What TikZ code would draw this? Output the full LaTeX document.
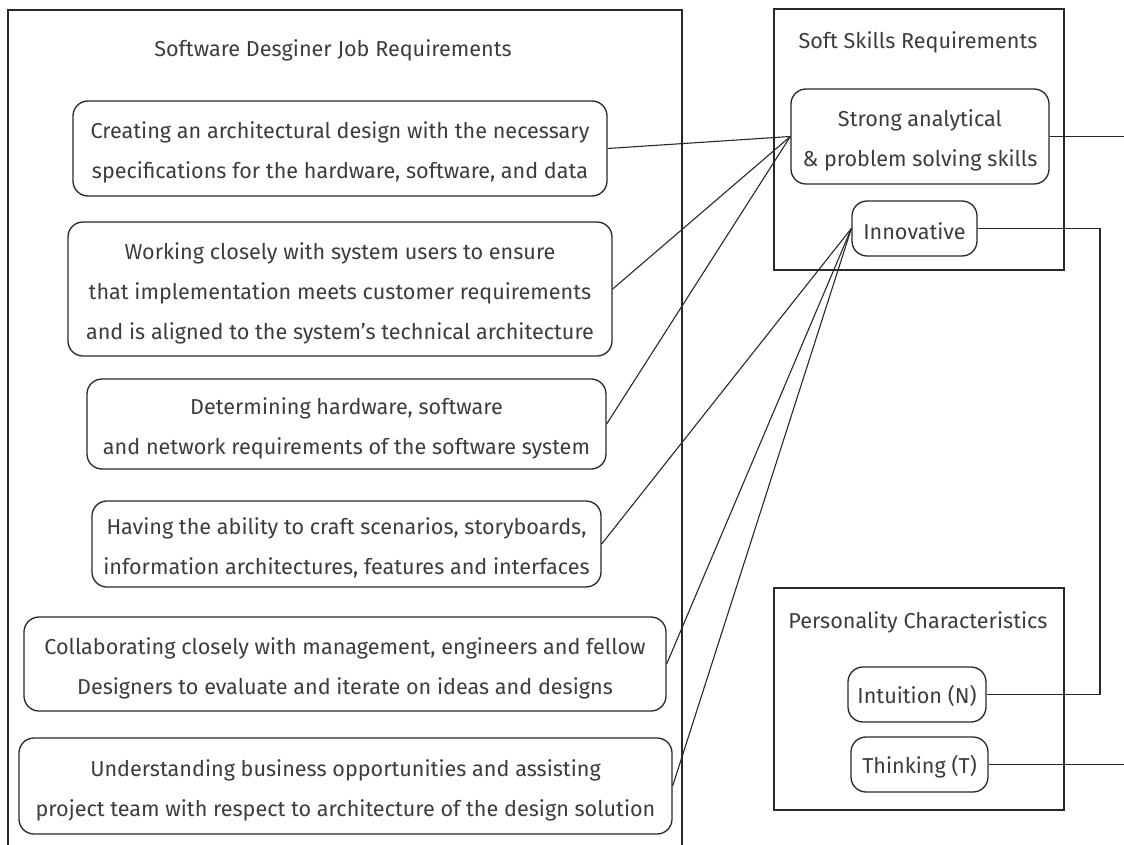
\documentclass[tikz,border=0pt]{standalone}
\usepackage{fontspec}
\newfontfamily\labelfont{Fira Sans}
\definecolor{ink}{RGB}{40,40,40}
\definecolor{txt}{RGB}{60,60,60}
% taller first line pushes the text block slightly down inside its box
\newcommand\firstline{\rule{0pt}{25pt}}
\begin{document}
\begin{tikzpicture}[x=1pt,y=-1pt,
  every node/.style={font=\labelfont\fontsize{21.6}{40}\selectfont, text=txt},
  frame/.style={draw=ink, line width=1.3pt},
  item/.style={draw=ink, line width=1.3pt, rounded corners=15pt, align=center, inner sep=0pt},
  pill/.style={item, execute at begin node={\rule{0pt}{22pt}}},
  link/.style={draw=ink, line width=1.1pt},
  heading/.style={font=\labelfont\fontsize{21.6}{24}\selectfont}]
\useasboundingbox (0,0) rectangle (1124,845);
\clip (0,0) rectangle (1124,845);

% group frames
\draw[frame] (8,10) rectangle (682,860);
\draw[frame] (774,9) rectangle (1064,270);
\draw[frame] (774,588) rectangle (1064,810);

\node[heading] (jobtitle) at (333,50) {Software Desginer Job Requirements};
\node[heading] (softtitle) at (918,42) {Soft Skills Requirements};
\node[heading] (perstitle) at (918,622) {Personality Characteristics};

% job requirements
\node[item, minimum width=534, minimum height=95] (j1) at (340,148.5)
  {\firstline Creating an architectural design with the necessary\\specifications for the hardware, software, and data};
\node[item, minimum width=544, minimum height=134] (j2) at (340,289)
  {\firstline Working closely with system users to ensure\\that implementation meets customer requirements\\and is aligned to the system’s technical architecture};
\node[item, minimum width=519, minimum height=90] (j3) at (346.5,424)
  {\firstline Determining hardware, software\\and network requirements of the software system};
\node[item, minimum width=509, minimum height=86] (j4) at (346.5,544)
  {\firstline Having the ability to craft scenarios, storyboards,\\information architectures, features and interfaces};
\node[item, minimum width=642, minimum height=94] (j5) at (345,664)
  {\firstline Collaborating closely with management, engineers and fellow\\Designers to evaluate and iterate on ideas and designs};
\node[item, minimum width=653, minimum height=96] (j6) at (345.5,786)
  {\firstline Understanding business opportunities and assisting\\project team with respect to architecture of the design solution};

% soft skills
\node[item, minimum width=258, minimum height=95] (strong) at (920,136.5)
  {\firstline Strong analytical\\\& problem solving skills};
\node[pill, minimum width=125, minimum height=55] (innov) at (914.5,228.5) {Innovative};

% personality
\node[pill, minimum width=138, minimum height=55] (intu) at (917,694.5) {Intuition (N)};
\node[pill, minimum width=137, minimum height=55] (think) at (919.5,764.5) {Thinking (T)};

\coordinate (outA) at (1130,136.5);
\coordinate (outB) at (1130,764.5);
\coordinate (bend) at (1100,0);

% connectors
\draw[link] (j1.east) -- (strong.west);
\draw[link] (j2.east) -- (strong.west);
\draw[link] (j3.east) -- (strong.west);
\draw[link] (j4.east) -- (innov.west);
\draw[link] (j5.east) -- (innov.west);
\draw[link] (j6.east) -- (innov.west);
\draw[link] (strong.east) -- (outA);
\draw[link] (innov.east) -- (innov.east -| bend) -- (intu.east -| bend) -- (intu.east);
\draw[link] (think.east) -- (outB);
\end{tikzpicture}
\end{document}
